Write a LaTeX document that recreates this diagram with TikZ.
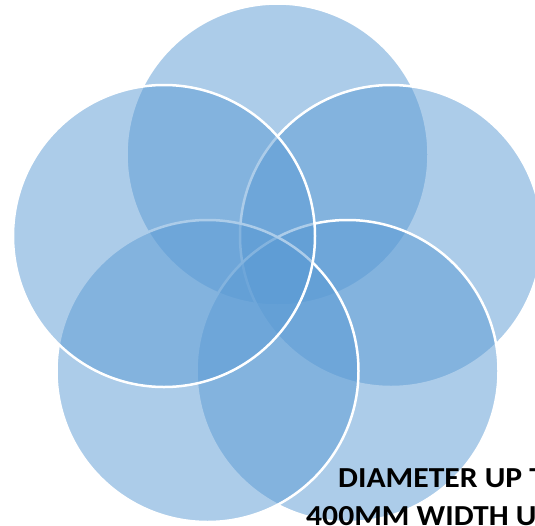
\documentclass[tikz,border=0pt]{standalone}
\usepackage{fontspec}
\setmainfont{Carlito}
\definecolor{vennblue}{HTML}{5B9BD5}
\tikzset{
  venn/.style={circle, inner sep=0pt, outer sep=0pt, minimum size=302pt,
    fill=vennblue, fill opacity=0.5, draw=white, draw opacity=1, line width=2.5pt},
  caption/.style={anchor=base west, inner sep=0pt, text=black,
    font=\fontsize{29}{38}\selectfont\bfseries}
}
\begin{document}
\begin{tikzpicture}[x=1pt,y=-1pt]
\useasboundingbox (0,0) rectangle (535,525);
\clip (0,0) rectangle (535,525);
\fill[white] (0,0) rectangle (535,525);
\node[venn] (ctop) at (277.5,154.5) {};
\node[venn] (cright) at (391,236) {};
\node[venn] (cbright) at (347.5,371) {};
\node[venn] (cbleft) at (207.5,371) {};
\node[venn] (cleft) at (164,236) {};
\node[caption] (t1) at (338,487.5) {\scalebox{1.09}[1]{DIAMETER UP T}};
\node[caption] (t2) at (306,525.5) {\scalebox{1.09}[1]{400MM WIDTH U}};
\end{tikzpicture}
\end{document}
